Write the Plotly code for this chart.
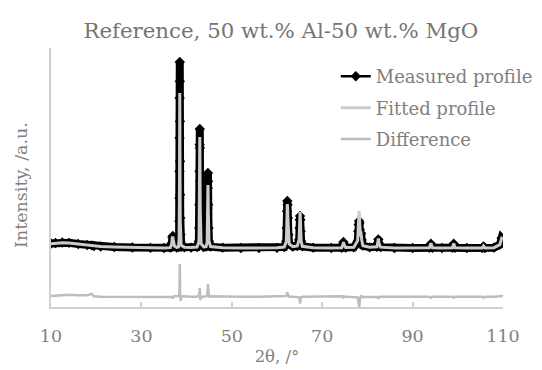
import plotly.graph_objects as go

# 2-theta grid (degrees) shared by the three series
two_theta = [
    10.0, 11.0, 12.5, 14.0, 16.0, 18.0, 19.0, 19.5, 21.0, 24.0, 28.0, 32.0, 35.0,
    36.4, 36.7, 36.85, 36.95, 37.05, 37.3, 37.8, 38.2,
    38.34, 38.38, 38.41, 38.43, 38.45, 38.47, 38.49, 38.51, 38.53, 38.55, 38.57, 38.60, 38.64, 38.68, 38.8,
    39.5, 41.0, 42.3,
    42.72, 42.78, 42.82, 42.86, 42.89, 42.92, 42.95, 42.98, 43.02, 43.08, 43.2, 43.8, 44.3,
    44.55, 44.61, 44.65, 44.69, 44.72, 44.75, 44.79, 44.85, 44.95, 45.3,
    48.0, 52.0, 56.0, 60.0, 61.6,
    62.05, 62.15, 62.22, 62.28, 62.34, 62.42, 62.52, 62.7, 63.5, 64.5,
    64.9, 64.98, 65.04, 65.1, 65.16, 65.24, 65.35, 65.6,
    68.0, 72.0, 74.3, 74.6, 74.7, 74.85, 75.2, 77.0,
    77.85, 77.98, 78.08, 78.16, 78.24, 78.34, 78.46, 78.6, 78.75, 79.0,
    80.5, 82.1, 82.3, 82.42, 82.55, 82.9,
    86.0, 90.0, 93.7, 94.05, 94.4, 96.5, 98.8, 99.1, 99.4, 102.0,
    105.4, 105.7, 106.0, 108.0, 109.3, 109.7, 110.0,
]

measured = [
    435, 450, 465, 455, 420, 390, 380, 360, 345, 330, 315, 305, 300,
    310, 440, 620, 660, 540, 350, 310, 330,
    600, 1100, 1800, 2600, 3600, 4800, 5880, 5300, 4100, 2900, 1900, 1200, 700, 480, 360,
    320, 310, 330,
    500, 900, 1600, 2600, 3400, 3870, 3300, 2300, 1400, 750, 420, 330, 340,
    500, 900, 1500, 2100, 2550, 2300, 1600, 900, 500, 340,
    310, 300, 300, 305, 330,
    500, 900, 1400, 1710, 1600, 1200, 700, 420, 340, 360,
    550, 900, 1150, 1260, 1150, 800, 500, 350,
    310, 300, 305, 410, 480, 400, 315, 320,
    500, 800, 1000, 1110, 1050, 850, 700, 740, 540, 370,
    320, 335, 450, 560, 440, 325,
    300, 300, 305, 430, 305, 300, 305, 430, 305, 300,
    300, 350, 300, 310, 400, 600, 560,
]

fitted = [
    430, 445, 460, 450, 420, 390, 375, 365, 345, 330, 315, 305, 300,
    310, 420, 610, 640, 550, 360, 320, 330,
    550, 900, 1500, 2200, 3200, 4200, 4950, 4700, 3700, 2500, 1700, 1100, 700, 500, 380,
    325, 315, 330,
    480, 850, 1500, 2500, 3300, 3630, 3200, 2300, 1450, 800, 430, 335, 340,
    470, 800, 1300, 1900, 2190, 2050, 1500, 900, 510, 345,
    310, 300, 300, 305, 330,
    490, 880, 1350, 1620, 1520, 1150, 680, 420, 340, 360,
    560, 950, 1280, 1380, 1250, 850, 510, 350,
    310, 300, 305, 400, 480, 400, 315, 320,
    520, 900, 1200, 1410, 1300, 950, 720, 730, 540, 370,
    320, 335, 460, 590, 450, 325,
    300, 300, 305, 440, 305, 300, 305, 440, 305, 300,
    300, 360, 300, 310, 400, 590, 560,
]

difference = [
    -1140, -1130, -1110, -1100, -1120, -1120, -1080, -1150, -1160, -1160, -1155, -1160, -1160,
    -1160, -1150, -1170, -1220, -1160, -1150, -1150, -1140,
    -1120, -1080, -1040, -940, -760, -520, -180, -540, -740, -940, -1060, -1120, -1190, -1290, -1160,
    -1150, -1160, -1160,
    -1130, -1110, -1060, -1020, -960, -900, -1040, -1160, -1240, -1260, -1170, -1155, -1150,
    -1120, -1060, -960, -860, -780, -890, -1040, -1140, -1160, -1150,
    -1160, -1160, -1160, -1160, -1155,
    -1140, -1120, -1080, -1020, -1050, -1100, -1150, -1160, -1160, -1160,
    -1180, -1220, -1300, -1370, -1290, -1210, -1170, -1160,
    -1160, -1160, -1160, -1150, -1180, -1160, -1160, -1160,
    -1180, -1240, -1360, -1470, -1390, -1240, -1160, -1120, -1160, -1160,
    -1160, -1160, -1170, -1230, -1170, -1160,
    -1160, -1160, -1160, -1190, -1160, -1160, -1160, -1190, -1160, -1160,
    -1160, -1190, -1160, -1160, -1150, -1140, -1140,
]

x_ticks = [10, 30, 50, 70, 90, 110]

FONT = "DejaVu Serif"
TXT = "#7f7f7f"
AXC = "#d0d0d0"

fig = go.Figure()

# thick band of the measured profile (dense markers in the original)
fig.add_trace(go.Scatter(
    x=two_theta, y=measured, mode="lines",
    line=dict(color="black", width=8), showlegend=False,
    legendgroup="m", hoverinfo="skip",
))
fig.add_trace(go.Scatter(
    x=two_theta, y=measured, mode="lines+markers", name="Measured profile",
    line=dict(color="black", width=2.5),
    marker=dict(symbol="diamond", size=8, color="black"),
    legendgroup="m",
))
fig.add_trace(go.Scatter(
    x=two_theta, y=fitted, mode="lines", name="Fitted profile",
    line=dict(color="#cccccc", width=3), legendgroup="f",
))
fig.add_trace(go.Scatter(
    x=two_theta, y=difference, mode="lines", name="Difference",
    line=dict(color="#bdbdbd", width=2.5), legendgroup="d",
))

# the page body adds an 8px offset, so the figure is 8px smaller than the window
fig.update_layout(
    width=534, height=362,
    margin=dict(l=43, r=39, t=40, b=63, autoexpand=False),
    paper_bgcolor="white", plot_bgcolor="white",
    font=dict(family=FONT, size=17, color=TXT),
    title=dict(text="Reference, 50 wt.% Al-50 wt.% MgO",
               x=0.511, xanchor="center", y=0.939, yanchor="middle",
               font=dict(family=FONT, size=21.3, color="#757575")),
    legend=dict(x=0.63, xanchor="left", y=0.961, yanchor="top",
                font=dict(family=FONT, size=18, color=TXT),
                bgcolor="rgba(0,0,0,0)", tracegroupgap=5,
                traceorder="grouped"),
    showlegend=True,
    annotations=[dict(
        text="Intensity, /a.u.", textangle=-90, showarrow=False,
        xref="paper", yref="paper", x=-0.0664, y=0.471,
        xanchor="center", yanchor="middle",
        font=dict(family=FONT, size=17.5, color=TXT),
    )],
)
fig.update_xaxes(
    range=[10, 110], tickvals=x_ticks, ticktext=[str(v) for v in x_ticks],
    tickfont=dict(family=FONT, size=17.5, color=TXT),
    showline=True, linecolor=AXC, linewidth=1.5,
    ticks="inside", ticklen=5, tickcolor=AXC, tickwidth=1.5,
    showgrid=False, zeroline=False, ticklabelstandoff=12,
    title=dict(text="2θ, /°", standoff=6, font=dict(family=FONT, size=16.5, color=TXT)),
    automargin=False,
)
fig.update_yaxes(
    range=[-1470, 6300], showticklabels=False, ticks="",
    showline=True, linecolor=AXC, linewidth=1.5,
    showgrid=False, zeroline=False,
    automargin=False,
)

fig.write_html("out.html")
